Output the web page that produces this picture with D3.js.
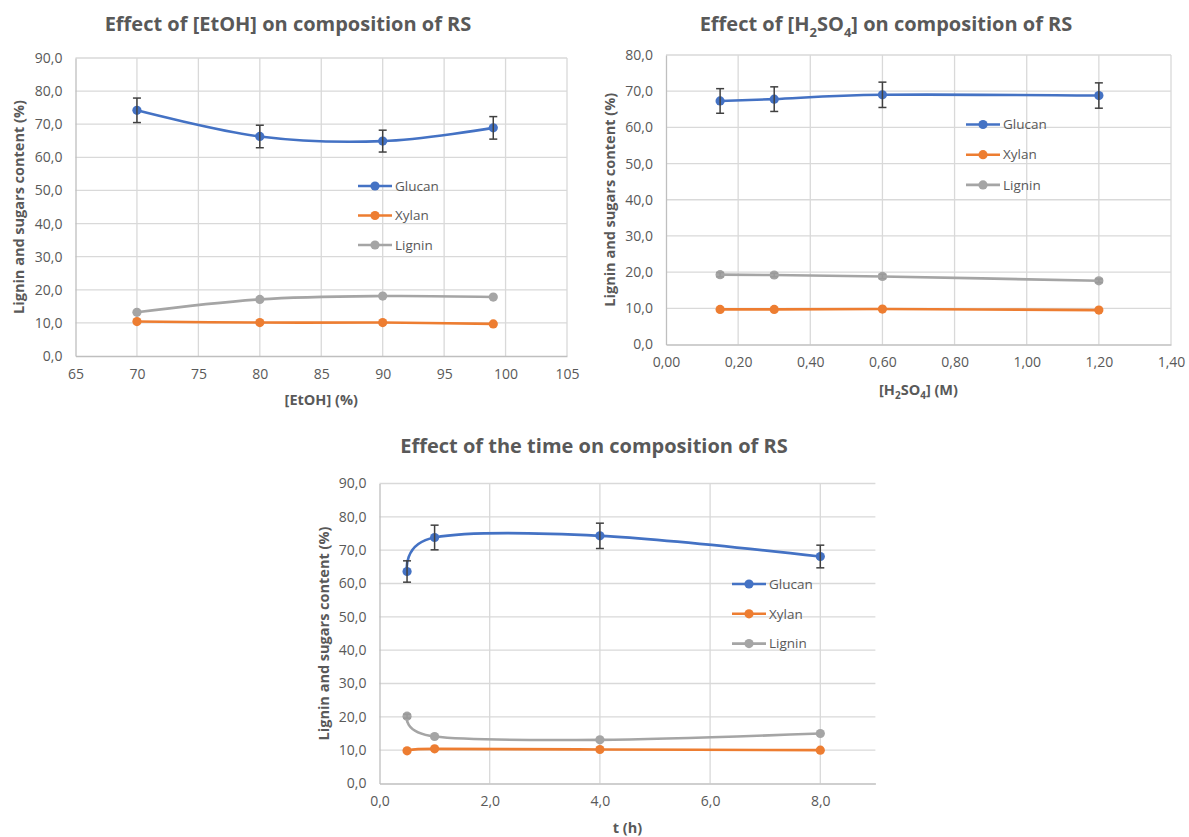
<!DOCTYPE html>
<html>
<head>
<meta charset="utf-8">
<script src="https://cdn.jsdelivr.net/npm/d3@7"></script>
<style>
  html, body { margin: 0; padding: 0; background: #fff; }
  svg { display: block; font-family: "Open Sans", "Noto Sans", sans-serif; }
</style>
</head>
<body>
<svg id="root" width="1189" height="837"></svg>
<script>
// ---------- DATA ----------
const seriesNames = ["Glucan", "Xylan", "Lignin"];

// Chart 1: effect of [EtOH]
const etohX = [70, 80, 90, 99];
const etohGlucan = [74.2, 66.3, 64.9, 68.9];
const etohGlucanErr = [3.7, 3.4, 3.3, 3.4];
const etohXylan = [10.4, 10.1, 10.1, 9.7];
const etohLignin = [13.2, 17.1, 18.1, 17.8];
const etohXTicks = [65, 70, 75, 80, 85, 90, 95, 100, 105];
const etohYTicks = [0, 10, 20, 30, 40, 50, 60, 70, 80, 90];

// Chart 2: effect of [H2SO4]
const acidX = [0.15, 0.30, 0.60, 1.20];
const acidGlucan = [67.3, 67.8, 69.0, 68.8];
const acidGlucanErr = [3.4, 3.4, 3.5, 3.5];
const acidXylan = [9.7, 9.7, 9.8, 9.5];
const acidLignin = [19.3, 19.2, 18.8, 17.6];
const acidLigninErr = [0.6, 0.5, 0.6, 0.5];
const acidXTicks = [0, 0.2, 0.4, 0.6, 0.8, 1.0, 1.2, 1.4];
const acidYTicks = [0, 10, 20, 30, 40, 50, 60, 70, 80];

// Chart 3: effect of time
const timeX = [0.5, 1, 4, 8];
const timeGlucan = [63.6, 73.8, 74.3, 68.1];
const timeGlucanErr = [3.2, 3.7, 3.8, 3.4];
const timeXylan = [9.8, 10.4, 10.2, 10.0];
const timeLignin = [20.2, 14.1, 13.1, 15.0];
const timeLigninErr = [0.6, 0, 0, 0];
const timeXTicks = [0, 2, 4, 6, 8];
const timeYTicks = [0, 10, 20, 30, 40, 50, 60, 70, 80, 90];

// ---------- STYLE ----------
const colors = { Glucan: "#4472C4", Xylan: "#ED7D31", Lignin: "#A5A5A5" };
const textColor = "#595959";
const gridColor = "#D9D9D9";
const errColor = "#404040";

const svg = d3.select("#root");
const comma = s => s.replace(".", ",");

function drawChart(cfg) {
  const g = svg.append("g");
  const x = d3.scaleLinear().domain(cfg.xDomain).range([cfg.left, cfg.right]);
  const y = d3.scaleLinear().domain(cfg.yDomain).range([cfg.bottom, cfg.top]);

  // horizontal gridlines
  g.append("g").selectAll("line").data(cfg.yTicks.filter(t => t !== 0)).join("line")
    .attr("x1", cfg.left).attr("x2", cfg.right)
    .attr("y1", d => y(d)).attr("y2", d => y(d))
    .attr("stroke", gridColor).attr("stroke-width", 1.3);
  // vertical gridlines
  g.append("g").selectAll("line").data(cfg.xTicks.filter(t => t !== cfg.xDomain[0])).join("line")
    .attr("x1", d => x(d)).attr("x2", d => x(d))
    .attr("y1", cfg.top).attr("y2", cfg.bottom)
    .attr("stroke", gridColor).attr("stroke-width", 1.3);

  // axes using d3 axis
  const yAxis = g.append("g").attr("transform", `translate(${cfg.left},0)`)
    .call(d3.axisLeft(y).tickValues(cfg.yTicks).tickSize(0).tickPadding(13)
      .tickFormat(d => comma(d3.format(".1f")(d))));
  const xAxis = g.append("g").attr("transform", `translate(0,${cfg.bottom})`)
    .call(d3.axisBottom(x).tickValues(cfg.xTicks).tickSize(0).tickPadding(13)
      .tickFormat(d => comma(d3.format(cfg.xFormat)(d))));
  [yAxis, xAxis].forEach(a => {
    a.select(".domain").attr("stroke", "#BFBFBF").attr("stroke-width", 1.3);
    a.selectAll("text").attr("fill", textColor).attr("font-size", 14)
      .attr("font-family", "'Open Sans', sans-serif");
  });

  // series
  const lineGen = d3.line().curve(d3.curveCatmullRom.alpha(0))
    .x(d => x(d.x)).y(d => y(d.y));
  cfg.series.forEach(s => {
    const pts = cfg.xs.map((xv, i) => ({ x: xv, y: s.values[i], e: s.err ? s.err[i] : 0 }));
    g.append("path").datum(pts).attr("d", lineGen)
      .attr("fill", "none").attr("stroke", colors[s.name]).attr("stroke-width", 2.6)
      .attr("stroke-linecap", "round");
    g.append("g").selectAll("circle").data(pts).join("circle")
      .attr("cx", d => x(d.x)).attr("cy", d => y(d.y)).attr("r", 4.6)
      .attr("fill", colors[s.name]);
    if (s.err) {
      const ec = s.name === "Glucan" ? errColor : "#9A9A9A";
      const eg = g.append("g").attr("stroke", ec).attr("stroke-width", 1.5);
      pts.filter(d => d.e > 0).forEach(d => {
        eg.append("line").attr("x1", x(d.x)).attr("x2", x(d.x))
          .attr("y1", y(d.y - d.e)).attr("y2", y(d.y + d.e));
        [d.y - d.e, d.y + d.e].forEach(v => {
          eg.append("line").attr("x1", x(d.x) - 4).attr("x2", x(d.x) + 4)
            .attr("y1", y(v)).attr("y2", y(v));
        });
      });
    }
  });

  // legend
  const lg = g.append("g");
  cfg.series.forEach((s, i) => {
    const ly = cfg.legend.y + i * cfg.legend.step;
    lg.append("line").attr("x1", cfg.legend.x).attr("x2", cfg.legend.x + 34)
      .attr("y1", ly).attr("y2", ly).attr("stroke", colors[s.name]).attr("stroke-width", 2.6);
    lg.append("circle").attr("cx", cfg.legend.x + 17).attr("cy", ly).attr("r", 4.6)
      .attr("fill", colors[s.name]);
    lg.append("text").attr("x", cfg.legend.x + 37).attr("y", ly).attr("dy", "0.35em")
      .attr("fill", textColor).attr("font-size", 13.5).text(s.name);
  });

  // title
  const t = g.append("text").attr("x", cfg.title.x).attr("y", cfg.title.y + 7)
    .attr("text-anchor", "middle")
    .attr("fill", textColor).attr("font-size", 20).attr("font-weight", "bold");
  addRich(t, cfg.title.parts, 6);

  // y title
  g.append("text")
    .attr("transform", `translate(${cfg.yTitle.x},${(cfg.top + cfg.bottom) / 2}) rotate(-90)`)
    .attr("text-anchor", "middle").attr("dy", "0.35em")
    .attr("fill", textColor).attr("font-size", 14.5).attr("font-weight", "bold")
    .text("Lignin and sugars content (%)");

  // x title
  const xt = g.append("text").attr("x", (cfg.left + cfg.right) / 2).attr("y", cfg.xTitle.y + 5)
    .attr("text-anchor", "middle")
    .attr("fill", textColor).attr("font-size", 14.5).attr("font-weight", "bold");
  addRich(xt, cfg.xTitle.parts, 4);
}

function addRich(textSel, parts, shift) {
  let shifted = false;
  parts.forEach(p => {
    if (typeof p === "string") {
      const ts = textSel.append("tspan").text(p);
      if (shifted) { ts.attr("dy", -shift); shifted = false; }
    } else {
      textSel.append("tspan").attr("dy", shifted ? 0 : shift)
        .attr("font-size", p.size).text(p.sub);
      shifted = true;
    }
  });
}

drawChart({
  left: 75.5, right: 567, top: 58, bottom: 356,
  xDomain: [65, 105], yDomain: [0, 90],
  xTicks: etohXTicks, yTicks: etohYTicks, xFormat: "d",
  xs: etohX,
  series: [
    { name: "Glucan", values: etohGlucan, err: etohGlucanErr },
    { name: "Xylan", values: etohXylan },
    { name: "Lignin", values: etohLignin }
  ],
  legend: { x: 358, y: 186, step: 29.5 },
  title: { x: 288, y: 23.5, parts: ["Effect of [EtOH] on composition of RS"] },
  yTitle: { x: 18.5 },
  xTitle: { y: 400, parts: ["[EtOH] (%)"] }
});

drawChart({
  left: 666, right: 1171, top: 55, bottom: 344.5,
  xDomain: [0, 1.4], yDomain: [0, 80],
  xTicks: acidXTicks, yTicks: acidYTicks, xFormat: ".2f",
  xs: acidX,
  series: [
    { name: "Glucan", values: acidGlucan, err: acidGlucanErr },
    { name: "Xylan", values: acidXylan },
    { name: "Lignin", values: acidLignin, err: acidLigninErr }
  ],
  legend: { x: 966, y: 124.5, step: 30.2 },
  title: { x: 886, y: 23.5, parts: ["Effect of [H", { sub: "2", size: 13 }, "SO", { sub: "4", size: 13 }, "] on composition of RS"] },
  yTitle: { x: 609.5 },
  xTitle: { y: 390, parts: ["[H", { sub: "2", size: 10 }, "SO", { sub: "4", size: 10 }, "] (M)"] }
});

drawChart({
  left: 379.5, right: 875.4, top: 483.5, bottom: 783.5,
  xDomain: [0, 9], yDomain: [0, 90],
  xTicks: timeXTicks, yTicks: timeYTicks, xFormat: ".1f",
  xs: timeX,
  series: [
    { name: "Glucan", values: timeGlucan, err: timeGlucanErr },
    { name: "Xylan", values: timeXylan },
    { name: "Lignin", values: timeLignin, err: timeLigninErr }
  ],
  legend: { x: 732, y: 584, step: 29.8 },
  title: { x: 594, y: 446, parts: ["Effect of the time on composition of RS"] },
  yTitle: { x: 323.5 },
  xTitle: { y: 828, parts: ["t (h)"] }
});
</script>
</body>
</html>
